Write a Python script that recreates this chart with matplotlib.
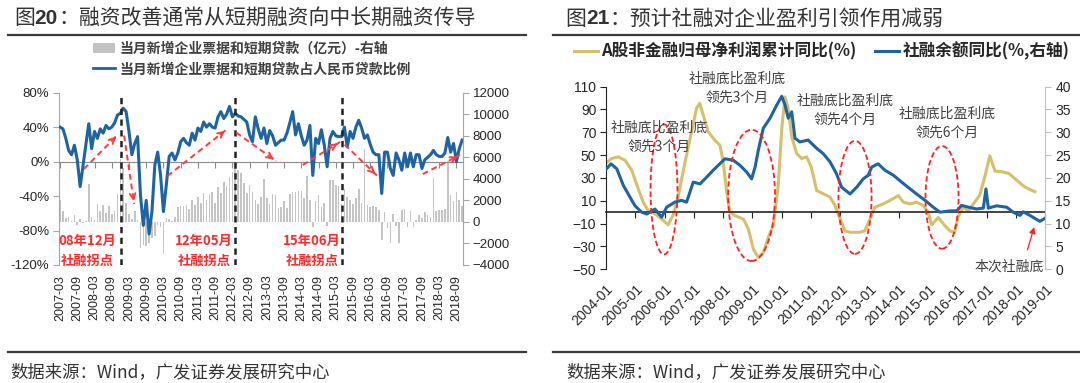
import matplotlib
matplotlib.use("Agg")
import matplotlib.pyplot as plt
import pandas as pd
from matplotlib.patches import Ellipse, Patch
from matplotlib.lines import Line2D
from matplotlib.ticker import FuncFormatter

plt.rcParams['font.family'] = ['Noto Sans CJK SC', 'DejaVu Sans']
NUM = ['Liberation Sans', 'Noto Sans CJK SC']

# ---------------- 图20 data: monthly, 2007-03 .. 2018-11
months = pd.period_range('2007-03', '2018-11', freq='M')
ratio = [40, 38, 27, 13, 8, 19, 2, -29, -5, 20,
         44, 15, 35, 27, 38, 33, 42, 38, 40, 45,
         54, 56, 62, 58, 35, 8, 21, 29, -39, -74,
         -45, -84, -58, -4, 11, -16, -58, -27, 6, 10,
         2, 10, 23, 27, 22, 19, 33, 25, 39, 35,
         46, 40, 44, 40, 39, 52, 58, 50, 55, 64,
         52, 56, 53, 52, 49, 46, 31, 23, 52, 38,
         27, 39, 21, 36, 30, 19, 22, 25, 25, 33,
         45, 58, 31, 44, 30, 19, 25, 42, -16, 27,
         21, 37, 19, -6, 27, 35, 30, 29, 29, 40,
         17, 35, 27, 40, 48, 39, 27, 31, 20, 11,
         8, 8, -37, 11, 11, -8, -16, 10, 2, -10,
         10, -6, 10, -6, 8, 8, -8, 2, 5, 8,
         13, 8, 6, 6, 10, 28, 11, 21, 0, 15,
         25]
loans = [2000, 1000, 400, 500, 100, 600, -300, 300, -100, 100,
         3500, 500, 200, 1700, 1000, 1600, 800, 1500, 700, 1000,
         2600, 5800, 5000, 1800, 700, 300, 1000, 200, -2400, -2100,
         -2200, -2000, -1500, -1300, -300, -500, -3000, 400, 300, 100,
         500, 1400, 1500, 1500, 1600, 1200, 2000, 1600, 2300, 1800,
         2700, 2000, 2600, 2800, 1800, 3200, 2700, 3700, 3300, 4200,
         4600, 5600, 4800, 4500, 3600, 2700, 3400, 2800, 2000, 1700,
         2300, 4000, 2200, 1700, 2600, 2500, 1300, 1400, 1900, 1300,
         2600, 2800, 2800, 2900, 2900, 2200, 4300, 2000, -500, 1900,
         2500, 1400, 1800, -400, 3900, 3900, 3400, 3300, 1700, 3100,
         2300, 2000, 1700, 2200, 3100, 1800, 6800, 1600, 1400, 1500,
         1400, 1100, -1700, 900, -600, -2000, 700, -400, -2000, 1100,
         1200, -500, 1000, -500, 200, 600, 400, 900, 600, 500,
         4100, 1000, 1100, 1100, 1200, 5700, 2500, 1900, 2800, 2000,
         1500]
left_labels = [str(p) for p in months[::6]]

turn_pos = [21.3, 61, 98.3]
turn_text_pos = [9.6, 50.2, 87.8]
turn_text = ['08年12月\n社融拐点', '12年05月\n社融拐点', '15年06月\n社融拐点']
trend_arrows = [((8.3, -8.6), (20.2, 31.5)), ((22.3, 30.3), (25.8, -49.2)),
                ((37.4, -16.7), (58.2, 37.8)), ((61.3, 33.8), (75.2, 0.7)),
                ((84.5, -3.9), (97.5, 22.8)), ((99.1, 19.8), (110.5, -16.7)),
                ((126.3, -14.4), (139.3, 7.7))]

# ---------------- 图21 data
profit_t = [2004.0, 2004.19, 2004.42, 2004.65, 2004.88, 2005.1, 2005.27, 2005.44, 2005.67, 2005.9,
            2006.12, 2006.3, 2006.47, 2006.7, 2006.92, 2007.09, 2007.2, 2007.32, 2007.49, 2007.72,
            2007.89, 2008.0, 2008.12, 2008.23, 2008.4, 2008.69, 2008.86, 2009.03, 2009.2, 2009.37,
            2009.54, 2009.71, 2009.88, 2010.0, 2010.11, 2010.22, 2010.34, 2010.51, 2010.68, 2010.85,
            2011.0, 2011.1, 2011.19, 2011.42, 2011.65, 2011.82, 2011.99, 2012.16, 2012.33, 2012.67,
            2012.84, 2013.01, 2013.18, 2013.46, 2013.69, 2013.98, 2014.15, 2014.38, 2014.6, 2014.83,
            2015.0, 2015.12, 2015.34, 2015.55, 2015.74, 2015.9, 2016.02, 2016.19, 2016.37, 2016.56,
            2016.76, 2016.94, 2017.1, 2017.28, 2017.5, 2017.75, 2018.0, 2018.3, 2018.64]
profit = [43, 47, 48.5, 45.5, 36.7, 20.5, 8.8, 1.4, -1.5, -5.9,
          -11, -2, 14.6, 44, 70.5, 91, 95.5, 85, 70.5, 63,
          58.7, 44, 17.6, 0, -3, -6, -14.7, -32.4, -39.7, -35.3,
          -22, -11.8, 23.5, 73.5, 101, 91, 66, 51.4, 47, 48.5,
          40, 29.4, 19, 16.1, 13.2, 5.8, -5.9, -16.2, -17.6, -17.6,
          -16.2, -5.9, 4.4, 7.3, 10.2, 14.6, 8.8, 7.3, 8.8, 5.8,
          0, -11, -4.6, -11.3, -16.4, -17.6, -4, 4.2, 1.2, 8,
          15, 32, 49.5, 36, 35.5, 34, 28.5, 22, 18]
tsf_t = [2004.0, 2004.17, 2004.37, 2004.59, 2004.82, 2004.99, 2005.22, 2005.39, 2005.67, 2005.9,
         2006.07, 2006.35, 2006.58, 2006.75, 2006.98, 2007.21, 2007.44, 2007.66, 2008.06, 2008.34,
         2008.57, 2008.8, 2008.97, 2009.09, 2009.2, 2009.37, 2009.6, 2009.83, 2010.0, 2010.11,
         2010.22, 2010.34, 2010.45, 2010.62, 2010.9, 2011.19, 2011.42, 2011.65, 2011.87, 2012.04,
         2012.33, 2012.56, 2012.78, 2012.95, 2013.07, 2013.29, 2013.52, 2013.81, 2014.09, 2014.38,
         2014.6, 2014.89, 2015.17, 2015.4, 2015.74, 2015.97, 2016.14, 2016.37, 2016.65, 2016.88,
         2016.97, 2017.05, 2017.33, 2017.68, 2017.9, 2018.13, 2018.24, 2018.47, 2018.81, 2018.99]
tsf = [21.9, 23.1, 22.0, 18.4, 15.8, 13.9, 12.5, 12.1, 13.2, 11.4,
       13.6, 14.7, 15.1, 14.7, 19.1, 18.7, 20.2, 21.7, 24.2, 23.9,
       22.8, 21.3, 19.8, 22.4, 26.1, 30.9, 33.1, 36.0, 37.9, 36.0,
       33.1, 34.5, 28.7, 27.9, 28.3, 26.5, 25.3, 23.5, 20.9, 18.0,
       16.5, 18.0, 19.8, 20.6, 22.4, 23.1, 21.7, 20.6, 19.1, 17.6,
       16.5, 15.1, 13.6, 12.5, 12.8, 12.8, 14.0, 13.6, 13.2, 13.4,
       17.6, 13.4, 13.9, 13.6, 12.5, 11.8, 12.6, 11.8, 10.5, 11.2]
years = list(range(2004, 2020))

# ellipse: (centre year, centre value, width yr, height)
circles = [(2005.98, 20, 0.92, 114), (2008.97, 14.7, 1.6, 115),
           (2012.5, 13, 1.13, 99), (2015.47, 13, 1.13, 90)]
lead_notes = [(2005.81, 66, '社融底比盈利底\n领先3个月'), (2008.47, 109, '社融底比盈利底\n领先3个月'),
              (2012.16, 89.3, '社融底比盈利底\n领先4个月'), (2015.66, 77.7, '社融底比盈利底\n领先6个月')]

BLUE = '#1f64a0'
GOLD = '#d6c06e'
GREY = '#c4c4c4'
TXT = '#333333'

fig = plt.figure(figsize=(10.8, 3.83), dpi=100)
renderer = fig.canvas.get_renderer()


def title(x, y, num, rest):
    xs = x
    for s, fam, w in [('图', None, 'normal'), (num, NUM, 'bold'), (rest, None, 'normal')]:
        kw = {'family': fam} if fam else {}
        t = fig.text(xs, y, s, fontsize=15, color=TXT, weight=w, va='center', ha='left', **kw)
        xs = t.get_window_extent(renderer).x1 / fig.bbox.width


title(13.8 / 1080, 1 - 18 / 383, '20', '：融资改善通常从短期融资向中长期融资传导')
title(565 / 1080, 1 - 19 / 383, '21', '：预计社融对企业盈利引领作用减弱')

for x0, x1 in [(8 / 1080, 526 / 1080), (553 / 1080, 1.0)]:
    for yy in [1 - 34.5 / 383, 1 - 352 / 383]:
        fig.add_artist(Line2D([x0, x1], [yy, yy], transform=fig.transFigure, color='#3a3a3a', lw=1.6))
fig.text(10 / 1080, 1 - 372 / 383, '数据来源：Wind，广发证券发展研究中心', fontsize=12.5, color=TXT, va='center')
fig.text(566 / 1080, 1 - 372 / 383, '数据来源：Wind，广发证券发展研究中心', fontsize=12.5, color=TXT, va='center')

# ================= 图20
ax = fig.add_axes([0.0548, 0.3081, 0.3739, 0.4499])
axr = ax.twinx()
ax.set_zorder(axr.get_zorder() + 1)
ax.patch.set_visible(False)
xi = list(range(len(months)))
axr.bar(xi, loans, width=0.55, color=GREY, zorder=1)
ax.plot(xi, ratio, color=BLUE, lw=2.2, zorder=3, solid_joinstyle='round')
ax.set_xlim(-0.3, len(months) - 0.7)
ax.set_ylim(-120, 80)
axr.set_ylim(-4000, 12000)
ax.set_yticks(range(-120, 81, 40))
ax.yaxis.set_major_formatter(FuncFormatter(lambda v, p: f'{v:.0f}%'))
axr.set_yticks(range(-4000, 12001, 2000))
for a in (ax, axr):
    for s in a.spines.values():
        s.set_visible(False)
ax.spines['left'].set_visible(True)
ax.spines['left'].set_color('#a6a6a6')
axr.spines['right'].set_visible(True)
axr.spines['right'].set_color('#a6a6a6')
ax.spines['bottom'].set_visible(True)
ax.spines['bottom'].set_position(('data', 0))
ax.spines['bottom'].set_color('#8c8c8c')
ax.spines['bottom'].set_linewidth(0.8)
ax.set_xticks(xi[::6])
ax.tick_params(axis='x', labelbottom=False, length=4, color='#8c8c8c')
ax.tick_params(axis='y', length=4, color='#a6a6a6', labelsize=9.5, labelcolor='#262626', pad=3)
axr.tick_params(axis='y', length=4, color='#a6a6a6', labelsize=9.5, labelcolor='#262626', pad=3)
for lab in ax.get_yticklabels() + axr.get_yticklabels():
    lab.set_family(NUM)
sec = ax.secondary_xaxis('bottom')
sec.set_ticks(xi[::6], labels=left_labels)
sec.tick_params(length=0, pad=7, labelsize=9, labelrotation=90, labelcolor='#262626')
sec.spines['bottom'].set_visible(False)
for lab in sec.get_xticklabels():
    lab.set_family(NUM)

for p in turn_pos:
    ax.axvline(p, color='#222222', lw=1.8, ls=(0, (2.5, 1.8)), zorder=4)
for p, s in zip(turn_text_pos, turn_text):
    ax.text(p, -104, s, color='#ff2a2a', fontsize=9.5, weight='bold', ha='center', va='center',
            linespacing=1.55, zorder=5)
for (x0, y0), (x1, y1) in trend_arrows:
    ax.plot([x0, x1], [y0, y1], color='#ff3b3b', lw=1.4, ls=(0, (3, 2)), zorder=5)
    ax.annotate('', xy=(x1, y1), xytext=(x1 - 0.15 * (x1 - x0), y1 - 0.15 * (y1 - y0)),
                arrowprops=dict(arrowstyle='->', color='#ff3b3b', lw=1.4, mutation_scale=10), zorder=5)

ax.legend([Patch(facecolor=GREY), Line2D([], [], color=BLUE, lw=2)],
          ['当月新增企业票据和短期贷款（亿元）-右轴', '当月新增企业票据和短期贷款占人民币贷款比例'],
          loc='upper left', bbox_to_anchor=(93 / 1080, 1 - 42 / 383), bbox_transform=fig.transFigure,
          frameon=False, borderpad=0, borderaxespad=0, handlelength=1.6, handletextpad=0.3,
          labelspacing=0.45, prop=dict(size=10, weight='bold'), labelcolor='#404040')

# ================= 图21
bx = fig.add_axes([0.5611, 0.2969, 0.4069, 0.4768])
bxr = bx.twinx()
bx.plot(profit_t, profit, color=GOLD, lw=2.2, solid_joinstyle='round')
bxr.plot(tsf_t, tsf, color=BLUE, lw=2.2, solid_joinstyle='round')
bx.set_xlim(2004, 2019)
bx.set_ylim(-50, 110)
bxr.set_ylim(0, 40)
bx.set_yticks(range(-50, 111, 20))
bxr.set_yticks(range(0, 41, 5))
for a in (bx, bxr):
    for s in a.spines.values():
        s.set_visible(False)
bx.spines['left'].set_visible(True)
bx.spines['left'].set_color('#222222')
bxr.spines['right'].set_visible(True)
bxr.spines['right'].set_color('#bfbfbf')
bx.spines['bottom'].set_visible(True)
bx.spines['bottom'].set_position(('data', 0))
bx.spines['bottom'].set_color('#222222')
bx.spines['bottom'].set_linewidth(1.2)
bx.set_xticks(years)
bx.tick_params(axis='x', labelbottom=False, length=4, color='#222222')
bx.tick_params(axis='y', length=4, color='#222222', labelsize=10, labelcolor='#262626', pad=3)
bxr.tick_params(axis='y', length=4, color='#bfbfbf', labelsize=10, labelcolor='#262626', pad=3)
for lab in bx.get_yticklabels() + bxr.get_yticklabels():
    lab.set_family(NUM)
sec2 = bx.secondary_xaxis('bottom')
sec2.set_ticks(years, labels=[f'{y}-01' for y in years])
sec2.tick_params(length=0, pad=9, labelsize=10, labelcolor='#262626')
sec2.spines['bottom'].set_visible(False)
for lab in sec2.get_xticklabels():
    lab.set_family(NUM)
    lab.set_rotation(45)
    lab.set_ha('right')
    lab.set_rotation_mode('anchor')

for cx, cy, w, h in circles:
    bxr.add_patch(Ellipse((cx, cy), w, h, transform=bx.transData, fill=False,
                          edgecolor='#ff2020', lw=1.3, ls=(0, (3, 1.6)), zorder=6))
for x, y, s in lead_notes:
    bxr.text(x, y, s, transform=bx.transData, fontsize=10, color='#404040', ha='center',
             va='center', linespacing=1.45, zorder=7)
bxr.text(2017.75, -47.3, '本次社融底', transform=bx.transData, fontsize=10, color='#404040',
         ha='center', va='center', zorder=7)
bxr.annotate('', xy=(2018.64, -10.7), xytext=(2018.36, -35.3), xycoords=bx.transData,
             textcoords=bx.transData,
             arrowprops=dict(arrowstyle='-|>', color='#ff2020', lw=0.9, mutation_scale=9), zorder=7)

bx.legend([Line2D([], [], color=GOLD, lw=2.2), Line2D([], [], color=BLUE, lw=2.2)],
          ['A股非金融归母净利润累计同比(%)', '社融余额同比(%,右轴)'],
          loc='upper left', bbox_to_anchor=(574 / 1080, 1 - 42 / 383), bbox_transform=fig.transFigure,
          ncol=2, frameon=False, borderpad=0, borderaxespad=0, handlelength=1.45, handletextpad=0.2,
          columnspacing=1.1, prop=dict(size=12, weight='bold'), labelcolor='#262626')

fig.savefig('out.png', dpi=100)
